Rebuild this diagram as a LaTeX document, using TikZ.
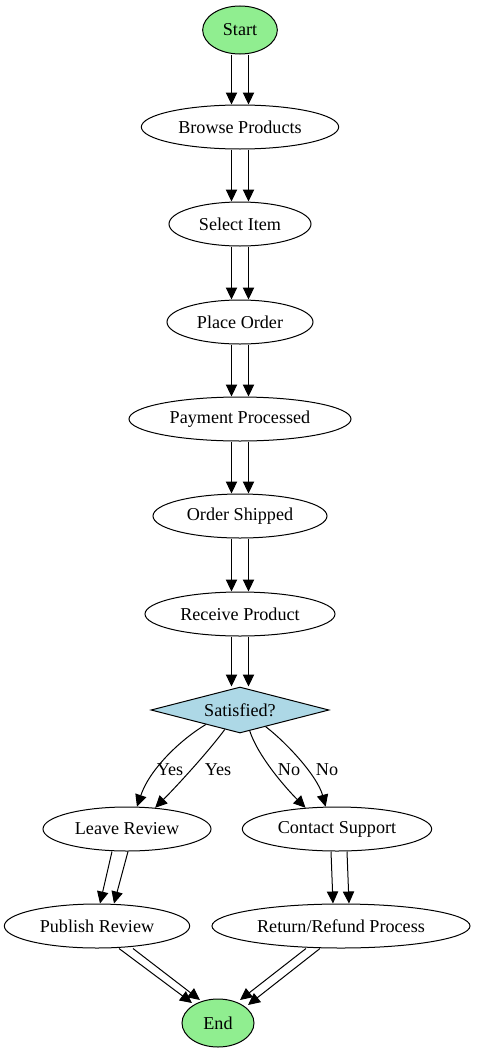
\documentclass[tikz,border=0pt]{standalone}
\usepackage{fontspec}
\setmainfont{Liberation Serif}
\usetikzlibrary{shapes.geometric,arrows.meta,calc}

\definecolor{termgreen}{HTML}{90EE90}
\definecolor{askblue}{HTML}{ADD8E6}

\tikzset{
	stepnode/.style={ellipse, draw, fill=white, inner sep=0pt, minimum height=33pt},
	termnode/.style={ellipse, draw, fill=termgreen, inner sep=0pt, minimum height=36pt},
	asknode/.style={diamond, draw, fill=askblue, inner sep=0pt, aspect=3.9},
	flow/.style={-{Triangle[length=9pt,width=8.5pt]}}
}

\begin{document}
\begin{tikzpicture}[x=0.75pt, y=-0.75pt, line width=0.75pt, font=\fontsize{13.6}{15}\selectfont]
		\useasboundingbox (0,0) rectangle (477,1053);
		% Draw the nodes
		\node[termnode, minimum width=56pt] (start) at (240,30) {Start};
		\node[stepnode, minimum width=148pt] (browse) at (240,127) {Browse Products};
		\node[stepnode, minimum width=106.5pt] (select) at (240,224) {Select Item};
		\node[stepnode, minimum width=109.5pt] (order) at (240,322) {Place Order};
		\node[stepnode, minimum width=166.5pt] (payment) at (240,419) {Payment Processed};
		\node[stepnode, minimum width=130.5pt] (shipped) at (240,516) {Order Shipped};
		\node[stepnode, minimum width=142.5pt] (receive) at (240,614) {Receive Product};
		\node[asknode, minimum width=133.5pt, minimum height=34.5pt] (satisfied) at (240,710) {Satisfied?};
		\node[stepnode, minimum width=126pt] (leave) at (127,829) {Leave Review};
		\node[stepnode, minimum width=142pt] (contact) at (337,829) {Contact Support};
		\node[stepnode, minimum width=139pt] (publish) at (97,926) {Publish Review};
		\node[stepnode, minimum width=193.5pt] (refund) at (341,926) {Return/Refund Process};
		\node[termnode, minimum width=54pt] (end) at (218,1023) {End};
		
		% Draw the parallel edges
		\draw[flow] ($(start.south)+(-8.5,0)$) -- ($(browse.north)+(-8.5,0)$);
		\draw[flow] ($(start.south)+(8.5,0)$) -- ($(browse.north)+(8.5,0)$);
		
		\draw[flow] ($(browse.south)+(-8.5,0)$) -- ($(select.north)+(-8.5,0)$);
		\draw[flow] ($(browse.south)+(8.5,0)$) -- ($(select.north)+(8.5,0)$);
		
		\draw[flow] ($(select.south)+(-8.5,0)$) -- ($(order.north)+(-8.5,0)$);
		\draw[flow] ($(select.south)+(8.5,0)$) -- ($(order.north)+(8.5,0)$);
		
		\draw[flow] ($(order.south)+(-8.5,0)$) -- ($(payment.north)+(-8.5,0)$);
		\draw[flow] ($(order.south)+(8.5,0)$) -- ($(payment.north)+(8.5,0)$);
		
		\draw[flow] ($(payment.south)+(-8.5,0)$) -- ($(shipped.north)+(-8.5,0)$);
		\draw[flow] ($(payment.south)+(8.5,0)$) -- ($(shipped.north)+(8.5,0)$);
		
		\draw[flow] ($(shipped.south)+(-8.5,0)$) -- ($(receive.north)+(-8.5,0)$);
		\draw[flow] ($(shipped.south)+(8.5,0)$) -- ($(receive.north)+(8.5,0)$);
		
		\draw[flow] ($(receive.south)+(-8.5,0)$) -- ($(satisfied.north)+(-8.5,0)$);
		\draw[flow] ($(receive.south)+(8.5,0)$) -- ($(satisfied.north)+(8.5,0)$);
		
		% Yes and No branches
		\draw[flow] (satisfied.203) .. controls +(-25,15) and +(13,-38) .. (leave.66);
		\draw[flow] (satisfied.232) .. controls +(-17,23) and +(20,-20) .. (leave.37);
		\draw[flow] (satisfied.295) .. controls +(8,25) and +(-20,-20) .. (contact.146);
		\draw[flow] (satisfied.327) .. controls +(22,17) and +(-8,-30) .. (contact.117);
		
		\node (yesa) at (170,770) {Yes};
		\node (yesb) at (218,770) {Yes};
		\node (noa) at (289,770) {No};
		\node (nob) at (327,770) {No};
		
		\draw[flow] ($(leave.south)+(-15,0)$) -- ($(publish.north)+(3,0)$);
		\draw[flow] ($(leave.south)+(1,0)$) -- ($(publish.north)+(17,0)$);
		
		\draw[flow] ($(contact.south)+(-6,0)$) -- ($(refund.north)+(-8,0)$);
		\draw[flow] ($(contact.south)+(10,0)$) -- ($(refund.north)+(8,0)$);
		
		\draw[flow] ($(publish.south)+(22,0)$) -- ($(end)+(-26,-20)$);
		\draw[flow] ($(publish.south)+(36,0)$) -- ($(end)+(-18,-23)$);
		
		\draw[flow] ($(refund.south)+(-35,0)$) -- ($(end)+(22,-23)$);
		\draw[flow] ($(refund.south)+(-21,0)$) -- ($(end)+(30,-18)$);
		
	\end{tikzpicture}
\end{document}
